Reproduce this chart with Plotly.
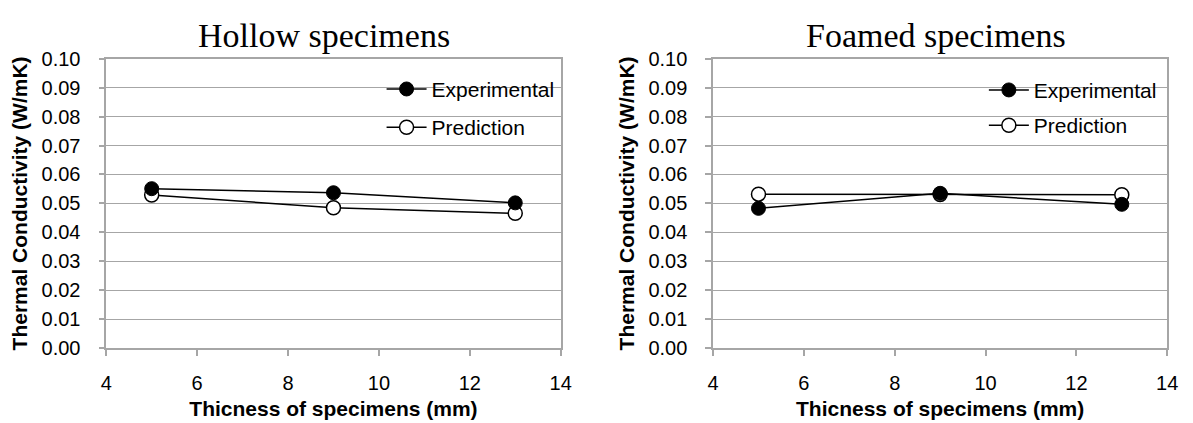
import plotly.graph_objects as go

thickness = [5, 9, 13]
hollow_exp = [0.0551, 0.0537, 0.0502]
hollow_pred = [0.0529, 0.0485, 0.0466]
foamed_exp = [0.0483, 0.0535, 0.0497]
foamed_pred = [0.0532, 0.0531, 0.0530]

titles = ["Hollow specimens", "Foamed specimens"]
series_names = ["Experimental", "Prediction"]
y_ticks = [0.00, 0.01, 0.02, 0.03, 0.04, 0.05, 0.06, 0.07, 0.08, 0.09, 0.10]
x_ticks = [4, 6, 8, 10, 12, 14]

W, H = 1193, 423
GRID = "#a6a6a6"

fig = go.Figure()

def add_pair(exp, pred, xa, ya, leg):
    fig.add_trace(go.Scatter(
        x=thickness, y=pred, name=series_names[1], mode="lines+markers",
        line=dict(color="black", width=1.5),
        marker=dict(symbol="circle", size=14, color="white", line=dict(color="black", width=1.5)),
        xaxis=xa, yaxis=ya, legend=leg, legendgroup=leg + "b", legendrank=2))
    fig.add_trace(go.Scatter(
        x=thickness, y=exp, name=series_names[0], mode="lines+markers",
        line=dict(color="black", width=1.5),
        marker=dict(symbol="circle", size=14, color="black", line=dict(color="black", width=1)),
        xaxis=xa, yaxis=ya, legend=leg, legendgroup=leg + "a", legendrank=1))

add_pair(hollow_exp, hollow_pred, "x", "y", "legend")
add_pair(foamed_exp, foamed_pred, "x2", "y2", "legend2")

def px_x(p):
    return p / W

def px_y(p):
    return 1 - p / H

ydom = [px_y(355.7), px_y(50.3)]
tickfont = dict(family="Liberation Sans, Arial", size=20, color="black")
titlefont = dict(family="Liberation Sans, Arial", size=21, color="black")

def xaxis(dom, anchor):
    return dict(domain=dom, anchor=anchor, range=[4, 14], tickvals=x_ticks,
                showgrid=False, zeroline=False, showline=True, linecolor=GRID, linewidth=1.5,
                mirror=True, ticks="outside", ticklen=6, tickcolor=GRID, tickwidth=1.5,
                tickfont=tickfont, ticklabelstandoff=10,
                title=dict(text="<b>Thicness of specimens (mm)</b>", font=titlefont, standoff=8))

def yaxis(anchor):
    return dict(domain=ydom, anchor=anchor, range=[0, 0.1], tickvals=y_ticks, tickformat=".2f",
                showgrid=True, gridcolor=GRID, gridwidth=1.3, zeroline=False,
                showline=True, linecolor=GRID, linewidth=1.5, mirror=True,
                ticks="outside", ticklen=6, tickcolor=GRID, tickwidth=1.5,
                tickfont=tickfont, ticklabelstandoff=14,
                title=dict(text="<b>Thermal Conductivity (W/mK)</b>", font=titlefont, standoff=8))

legfont = dict(family="Liberation Sans, Arial", size=21, color="black")

fig.update_layout(
    width=W, height=H, margin=dict(l=0, r=0, t=0, b=0),
    paper_bgcolor="white", plot_bgcolor="white",
    xaxis=xaxis([px_x(101.7), px_x(562.7)], "y"),
    yaxis=yaxis("x"),
    xaxis2=xaxis([px_x(717.3), px_x(1178)], "y2"),
    yaxis2=yaxis("x2"),
    legend=dict(x=px_x(381), y=px_y(61), xanchor="left", yanchor="top", itemwidth=40,
                bgcolor="rgba(0,0,0,0)", font=legfont, tracegroupgap=8, traceorder="grouped"),
    legend2=dict(x=px_x(992), y=px_y(62), xanchor="left", yanchor="top", itemwidth=40,
                 bgcolor="rgba(0,0,0,0)", font=legfont, tracegroupgap=5, traceorder="grouped"),
    showlegend=True,
    annotations=[
        dict(text=titles[0], x=px_x(322.5), y=px_y(26), xref="paper", yref="paper",
             xanchor="center", yanchor="middle", showarrow=False,
             font=dict(family="Liberation Serif, Times New Roman", size=34, color="black")),
        dict(text=titles[1], x=px_x(943.5), y=px_y(26), xref="paper", yref="paper",
             xanchor="center", yanchor="middle", showarrow=False,
             font=dict(family="Liberation Serif, Times New Roman", size=34, color="black")),
    ],
)

fig.write_html("out.html")
